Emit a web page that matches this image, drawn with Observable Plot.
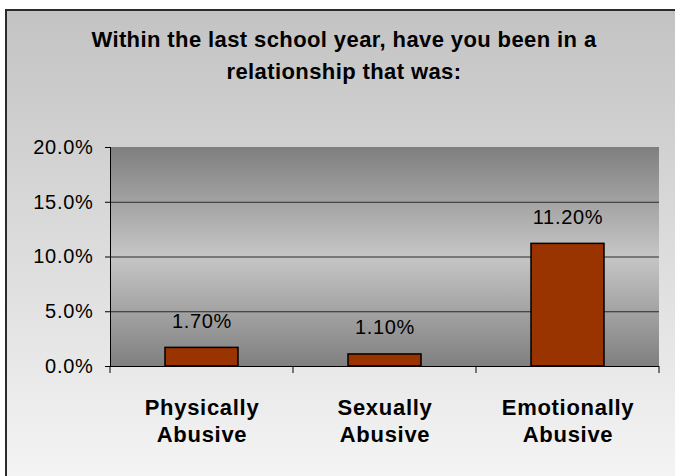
<!DOCTYPE html>
<html>
<head>
<meta charset="utf-8">
<script src="https://cdn.jsdelivr.net/npm/d3@7"></script>
<script src="https://cdn.jsdelivr.net/npm/@observablehq/plot@0.6"></script>
<style>
  html, body { margin: 0; padding: 0; background: #fff; }
  #wrap { position: relative; width: 675px; height: 476px; overflow: hidden; background: #fff; font-family: "Liberation Sans", Arial, sans-serif; }
  #box { position: absolute; left: 5px; top: 9px; width: 700px; height: 500px;
         border-top: 2px solid #2b2b2b; border-left: 2px solid #2b2b2b;
         background: linear-gradient(to bottom, #c3c3c3 0px, #f4f4f4 467px); }
  #title { position: absolute; left: 0; top: 24px; width: 688px; text-align: center;
           font-size: 22px; font-weight: bold; line-height: 32px; letter-spacing: 0.4px; color: #000; }
  #chart { position: absolute; left: 0; top: 0; }
  #chart svg text { letter-spacing: 0.7px; }
</style>
</head>
<body>
<div id="wrap">
  <div id="box"></div>
  <div id="title">Within the last school year, have you been in a<br>relationship that was:</div>
  <div id="chart"></div>
</div>
<script>
const categories = ["Physically Abusive", "Sexually Abusive", "Emotionally Abusive"];
const categoryLabels = ["Physically\nAbusive", "Sexually\nAbusive", "Emotionally\nAbusive"];
const values = [1.7, 1.1, 11.2];
const valueLabels = ["1.70%", "1.10%", "11.20%"];
const yTicks = [0, 5, 10, 15, 20];
const gridTicks = [5, 10, 15];

const data = categories.map((c, i) => ({cat: c, value: values[i], label: valueLabels[i], catLabel: categoryLabels[i]}));

const plotBackground = (index, scales, values, dims) => {
  const g = d3.create("svg:g");
  const defs = g.append("defs");
  const grad = defs.append("linearGradient").attr("id", "plotGrad").attr("x1", 0).attr("x2", 0).attr("y1", 0).attr("y2", 1);
  grad.append("stop").attr("offset", "0%").attr("stop-color", "#7f7f7f");
  grad.append("stop").attr("offset", "50%").attr("stop-color", "#c6c6c6");
  grad.append("stop").attr("offset", "100%").attr("stop-color", "#808080");
  g.append("rect")
    .attr("x", dims.marginLeft).attr("y", dims.marginTop)
    .attr("width", dims.width - dims.marginLeft - dims.marginRight)
    .attr("height", dims.height - dims.marginTop - dims.marginBottom)
    .attr("fill", "url(#plotGrad)");
  return g.node();
};

const xBoundaryTicks = (index, scales, values, dims) => {
  const x = scales.x;
  const g = d3.create("svg:g").attr("stroke", "#000").attr("stroke-width", 1);
  let bounds;
  if (x && typeof x.bandwidth === "function" && typeof x.step === "function") {
    const bw = x.bandwidth(), step = x.step();
    bounds = categories.map(c => x(c) - (step - bw) / 2);
    bounds.push(x(categories[categories.length - 1]) + bw + (step - bw) / 2);
  } else {
    const w = (dims.width - dims.marginLeft - dims.marginRight) / categories.length;
    bounds = d3.range(categories.length + 1).map(i => dims.marginLeft + i * w);
  }
  const bottom = dims.height - dims.marginBottom;
  bounds.forEach(b => {
    g.append("line").attr("x1", b).attr("x2", b).attr("y1", bottom).attr("y2", bottom + 7);
  });
  return g.node();
};

const chart = Plot.plot({
  width: 675,
  height: 476,
  marginTop: 147,
  marginRight: 16,
  marginBottom: 110,
  marginLeft: 110,
  style: {background: "transparent", color: "#000", fontFamily: "'Liberation Sans', Arial, sans-serif"},
  x: {domain: categories, paddingInner: 0.6, paddingOuter: 0.3, axis: null},
  y: {domain: [0, 20], axis: null},
  marks: [
    plotBackground,
    Plot.ruleY(gridTicks, {stroke: "#2a2a2a", strokeWidth: 1}),
    Plot.barY(data, {x: "cat", y: "value", fill: "#993300", stroke: "#000", strokeWidth: 1.5}),
    Plot.text(data, {x: "cat", y: "value", text: "label", dy: -20, lineAnchor: "bottom", fontSize: 20, fill: "#000"}),
    Plot.ruleY([0], {stroke: "#000", strokeWidth: 1}),
    Plot.frame({anchor: "left", stroke: "#000", strokeWidth: 1}),
    Plot.axisY({ticks: yTicks, tickFormat: d => d.toFixed(1) + "%", tickSize: 5, tickPadding: 12, fontSize: 20, label: null, stroke: "#000"}),
    xBoundaryTicks,
    Plot.text(data, {x: "cat", text: "catLabel", frameAnchor: "bottom", dy: 29.4, lineAnchor: "top", lineHeight: 1.227, fontSize: 22, fontWeight: "bold", fill: "#000"})
  ]
});
document.getElementById("chart").appendChild(chart);
</script>
</body>
</html>
